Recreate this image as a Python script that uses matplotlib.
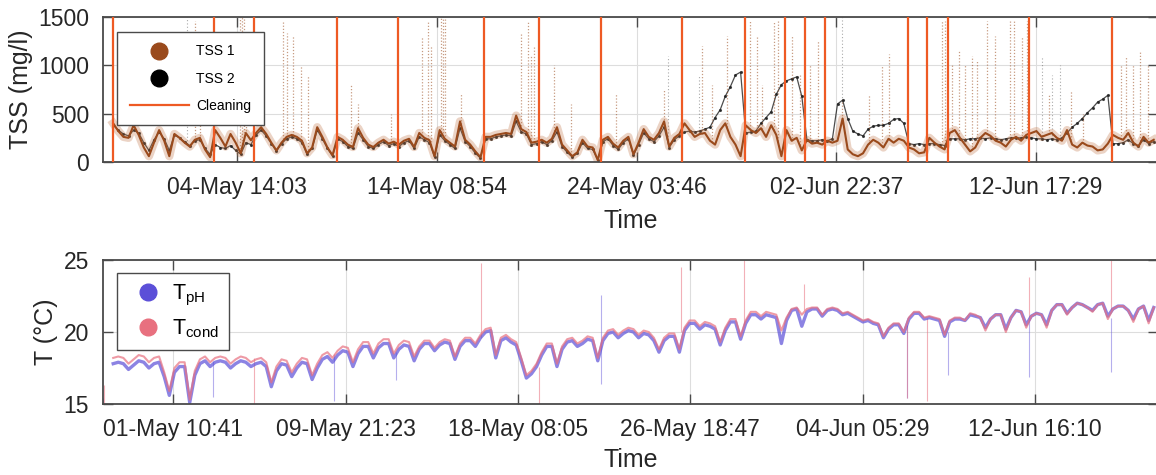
import numpy as np
import pandas as pd
from matplotlib import pyplot as plt
from matplotlib import dates as mdates
from matplotlib.lines import Line2D

plt.rcParams['font.family'] = ['Liberation Sans', 'DejaVu Sans']
plt.rcParams['mathtext.fontset'] = 'custom'
plt.rcParams['mathtext.rm'] = 'Liberation Sans'

# 6-hourly samples, first one at 28-Apr 12:00
start = '2021-04-28 12:00'

# TSS (mg/l), one row per day: 00h, 06h, 12h, 18h
tss1 = [400, 320,
        260, 250, 380, 280,   # 29-Apr
        150, 60, 200, 330,
        220, 60, 290, 250,    # 01-May
        200, 160, 230, 250,
        130, 50, 330, 250,
        160, 290, 200, 90,
        300, 225, 300, 360,   # 05-May
        290, 200, 120, 200,
        260, 280, 260, 220,
        90, 150, 360, 260,
        150, 70, 260, 230,
        180, 155, 350, 250,   # 10-May
        180, 155, 200, 230,
        190, 210, 180, 220,
        240, 155, 300, 250,
        225, 60, 330, 240,
        200, 160, 420, 230,   # 15-May
        180, 110, 50, 260,
        260, 280, 290, 300,
        290, 480, 340, 310,
        200, 210, 230, 200,
        240, 360, 180, 120,   # 20-May
        60, 100, 230, 160,
        150, 20, 230, 260,
        190, 150, 220, 260,
        80, 200, 340, 260,
        230, 300, 420, 160,   # 25-May
        250, 290, 400, 330,
        260, 290, 300, 220,
        180, 330, 400, 260,
        180, 60, 380, 330,
        300, 350, 260, 380,   # 30-May
        280, 60, 330, 220,
        250, 120, 230, 190,
        200, 180, 220, 200,
        220, 450, 130, 80,
        60, 90, 180, 230,     # 04-Jun
        200, 150, 240, 200,
        240, 220, 150, 130,
        90, 100, 250, 200,
        160, 130, 300, 330,
        250, 180, 110, 150,   # 09-Jun
        250, 300, 270, 220,
        200, 160, 230, 260,
        220, 280, 300, 320,
        260, 280, 300, 250,
        220, 330, 180, 150,   # 14-Jun
        200, 170, 160, 120,
        130, 190, 280, 250,
        230, 300, 200, 160,
        260, 200, 230]

tss2 = [380, 330,
        290, 270, 330, 300,
        200, 120, 230, 310,
        240, 120, 280, 250,   # 01-May
        210, 170, 220, 230,
        140, 80, 180, 150,
        140, 170, 120, 80,
        200, 180, 280, 330,   # 05-May
        270, 190, 110, 190,
        240, 260, 240, 200,
        80, 140, 330, 240,
        140, 60, 240, 210,
        160, 140, 300, 230,   # 10-May
        160, 140, 180, 210,
        170, 190, 160, 200,
        220, 140, 260, 230,
        200, 50, 280, 220,
        180, 140, 350, 210,   # 15-May
        160, 90, 40, 240,
        240, 260, 270, 280,
        270, 420, 310, 290,
        180, 190, 210, 180,
        220, 310, 160, 100,   # 20-May
        50, 90, 200, 140,
        130, 20, 210, 240,
        170, 130, 200, 240,
        70, 180, 300, 240,
        210, 270, 360, 150,   # 25-May
        230, 270, 310, 320,
        310, 320, 340, 360,
        460, 540, 680, 780,
        900, 930, 300, 310,
        320, 400, 460, 520,   # 30-May
        700, 800, 840, 860,
        880, 680, 230, 220,
        220, 230, 220, 240,
        600, 640, 450, 320,
        290, 270, 340, 370,   # 04-Jun
        380, 380, 400, 440,
        450, 400, 190, 180,
        190, 180, 190, 190,
        180, 170, 240, 240,
        240, 230, 240, 240,   # 09-Jun
        250, 240, 250, 240,
        230, 240, 250, 250,
        250, 260, 250, 240,
        240, 230, 240, 230,
        250, 300, 360, 400,   # 14-Jun
        450, 510, 560, 620,
        650, 690, 190, 190,
        200, 230, 190, 170,
        230, 190, 210]

# sensor cleaning events
cleaning = ['04-28 11:45', '05-03 10:50', '05-05 10:05', '05-09 10:50',
            '05-12 10:50', '05-16 16:05', '05-19 09:05', '05-22 10:05',
            '05-26 09:35', '05-29 10:50', '05-31 09:50', '06-01 09:35',
            '06-02 09:05', '06-06 11:00', '06-07 09:20', '06-08 10:05',
            '06-12 09:35', '06-16 10:20']

# isolated TSS 1 peaks: days after 01-May 00:00, peak value
tss1_peak_day = [1.52, 1.77, 3.73, 3.83, 3.93, 4.03, 5.80, 6.04, 6.29, 6.68,
                 7.03, 9.14, 9.48, 11.10, 12.63, 12.92, 13.07, 13.56, 13.66,
                 13.76, 14.54, 17.49, 17.84, 17.99, 18.13, 19.11, 19.95, 22.16,
                 24.52, 26.34, 26.83, 27.56, 28.69, 29.04, 29.28, 29.87, 30.07,
                 30.76, 31.15, 31.64, 32.03, 33.21, 34.54, 35.18, 35.52, 36.41,
                 38.13, 38.28, 38.62, 38.96, 39.26, 39.60, 39.85, 40.33, 40.73,
                 41.47, 41.67, 42.06, 42.31, 43.38, 44.42, 45.01, 46.88, 47.12,
                 47.47, 47.81, 48.21]
tss1_peak_val = [1460, 1300, 1500, 1500, 1500, 1200, 1460, 1330, 1300, 1000,
                 900, 800, 600, 500, 1300, 1460, 1200, 1500, 1500,
                 1500, 700, 1330, 1460, 1100, 1200, 1000, 600, 700,
                 750, 1200, 800, 1300, 1460, 1300, 800, 1460, 1460,
                 1300, 900, 1000, 1260, 640, 700, 1000, 1120, 500,
                 1460, 1460, 1000, 1150, 1000, 1100, 1050, 1460, 1300,
                 1460, 1460, 1300, 1460, 700, 740, 500, 1000, 1100,
                 1000, 1150, 1000]
tss2_peak_day = [1.13, 24.7, 26.2, 33.2, 43.04, 43.5, 43.9]
tss2_peak_val = [1500, 1100, 900, 1500, 1100, 900, 1000]

# temperature (deg C), same 6-hourly grid
t_cond = [18.2, 18.3,
          18.2, 17.8, 18.1, 18.4,
          18.3, 17.9, 18.2, 18.3,
          17.2, 15.9, 17.5, 17.9,   # 01-May
          17.9, 15.3, 17.3, 18.1,
          18.3, 17.9, 18.2, 18.3,
          18.2, 17.8, 18.1, 18.3,
          18.2, 17.9, 18.1, 18.2,   # 05-May
          17.9, 16.5, 17.6, 18.1,
          18.0, 17.2, 17.8, 18.2,
          18.1, 17.0, 17.8, 18.4,
          18.6, 18.2, 18.7, 19.0,
          18.9, 17.9, 18.8, 19.3,   # 10-May
          19.3, 18.5, 19.2, 19.5,
          19.5, 18.5, 19.1, 19.4,
          19.3, 18.3, 19.0, 19.4,
          19.4, 18.9, 19.3, 19.5,
          19.4, 18.3, 19.2, 19.6,   # 15-May
          19.6, 19.2, 19.8, 20.2,
          20.3, 18.4, 19.6, 19.8,
          19.5, 19.3, 18.2, 17.0,
          17.3, 17.8, 18.6, 19.2,
          19.2, 17.8, 19.0, 19.5,   # 20-May
          19.6, 19.2, 19.4, 19.7,
          19.6, 18.2, 19.6, 20.1,
          20.2, 19.8, 20.1, 20.3,
          20.2, 19.8, 20.1, 20.0,
          19.6, 18.8, 19.6, 19.9,   # 25-May
          19.9, 18.8, 20.3, 20.8,
          20.8, 20.4, 20.7, 20.6,
          20.4, 19.3, 20.3, 20.9,
          20.9, 19.7, 20.8, 21.4,
          21.4, 21.1, 21.4, 21.3,   # 30-May
          21.2, 20.1, 21.0, 21.6,
          21.7, 21.2, 21.6, 21.7,
          21.7, 21.2, 21.6, 21.7,
          21.6, 21.3, 21.4, 21.2,
          21.0, 20.8, 20.9, 20.7,   # 04-Jun
          20.6, 19.7, 20.3, 20.6,
          20.6, 20.0, 21.0, 21.4,
          21.4, 21.0, 21.1, 21.0,
          20.9, 19.8, 20.8, 21.0,
          21.0, 20.8, 21.3, 21.2,   # 09-Jun
          21.0, 20.1, 20.9, 21.2,
          21.2, 20.0, 21.0, 21.5,
          21.4, 20.3, 21.1, 21.3,
          21.2, 20.3, 21.5, 21.9,
          21.9, 21.2, 21.7, 22.0,   # 14-Jun
          21.9, 21.7, 21.4, 21.9,
          22.0, 20.9, 21.6, 21.8,
          21.8, 21.5, 20.7, 21.6,
          21.8, 20.6, 21.7]

t_ph = [17.8, 17.9,
        17.8, 17.4, 17.7, 18.0,
        17.9, 17.5, 17.8, 17.9,
        16.9, 15.6, 17.2, 17.6,     # 01-May
        17.6, 15.1, 17.0, 17.8,
        18.0, 17.6, 17.9, 18.0,
        17.9, 17.5, 17.8, 18.0,
        17.9, 17.6, 17.8, 17.9,     # 05-May
        17.6, 16.2, 17.3, 17.8,
        17.7, 16.9, 17.5, 17.9,
        17.8, 16.7, 17.5, 18.1,
        18.3, 17.9, 18.4, 18.7,
        18.6, 17.6, 18.5, 19.0,     # 10-May
        19.0, 18.2, 18.9, 19.2,
        19.2, 18.2, 18.8, 19.1,
        19.0, 18.0, 18.8, 19.2,
        19.2, 18.7, 19.1, 19.3,
        19.2, 18.1, 19.0, 19.4,     # 15-May
        19.4, 19.0, 19.6, 20.0,
        20.1, 18.2, 19.4, 19.6,
        19.3, 19.1, 18.0, 16.8,
        17.1, 17.6, 18.4, 19.0,
        19.0, 17.6, 18.8, 19.3,     # 20-May
        19.4, 19.0, 19.2, 19.5,
        19.4, 18.0, 19.4, 19.9,
        20.0, 19.6, 19.9, 20.1,
        20.0, 19.6, 19.9, 19.8,
        19.4, 18.6, 19.4, 19.7,     # 25-May
        19.7, 18.6, 20.1, 20.6,
        20.6, 20.2, 20.5, 20.4,
        20.2, 19.1, 20.1, 20.7,
        20.7, 19.5, 20.6, 21.2,
        21.2, 20.9, 21.2, 21.1,     # 30-May
        21.0, 19.2, 20.8, 21.5,
        21.6, 20.4, 21.4, 21.6,
        21.6, 21.1, 21.5, 21.6,
        21.5, 21.2, 21.3, 21.1,
        20.9, 20.7, 20.8, 20.6,     # 04-Jun
        20.5, 19.6, 20.2, 20.5,
        20.5, 19.9, 20.9, 21.3,
        21.3, 20.9, 21.0, 20.9,
        20.8, 19.7, 20.7, 20.9,
        20.9, 20.8, 21.2, 21.1,     # 09-Jun
        21.0, 20.3, 20.9, 21.2,
        21.2, 20.2, 21.0, 21.5,
        21.4, 20.5, 21.1, 21.3,
        21.2, 20.5, 21.5, 21.9,
        21.9, 21.3, 21.7, 22.0,     # 14-Jun
        21.9, 21.7, 21.5, 21.9,
        22.0, 21.1, 21.6, 21.8,
        21.8, 21.5, 20.9, 21.6,
        21.8, 20.8, 21.7]

# outliers at cleaning times: days after 01-May, low, high
tcond_out = [(-2.95, 15.0, 16.3), (4.39, 15.0, 18.2), (15.53, 19.6, 24.8),
             (18.38, 15.0, 17.6), (25.35, 20.0, 24.5), (28.40, 20.5, 25.0),
             (31.35, 21.5, 23.3), (36.41, 15.4, 20.5), (37.38, 15.2, 21.0),
             (42.40, 21.0, 23.8), (46.39, 21.5, 25.0)]
tph_out = [(-2.98, 15.0, 15.4), (2.40, 15.5, 18.0), (8.30, 15.2, 18.5),
           (11.35, 16.7, 18.6), (21.42, 16.4, 22.6), (36.41, 15.4, 20.5),
           (38.41, 17.0, 20.0), (42.40, 16.9, 21.0), (46.39, 17.2, 21.0)]

top_ticks = ['05-04 14:03', '05-14 08:54', '05-24 03:46', '06-02 22:37', '06-12 17:29']
bot_ticks = ['05-01 10:41', '05-09 21:23', '05-18 08:05', '05-26 18:47', '06-04 05:29', '06-12 16:10']

brown = '#9A4A1C'
orange = '#EE5A24'
blue = '#5B4FD8'
pink = '#E8707F'
axcol = '#4a4a4a'
txtcol = '#262626'

year = '2021-'
t0 = pd.Timestamp('2021-05-01')
tt = pd.date_range(start, periods=len(tss1), freq='6h')


def days(d):
    return t0 + pd.to_timedelta(np.asarray(d), unit='D')


def style(ax, ticks, ylim, yticks, ylabel, xpad):
    ax.set_xlim(pd.Timestamp('2021-04-28 00:00'), pd.Timestamp('2021-06-18 17:00'))
    ax.set_ylim(*ylim)
    ax.set_yticks(yticks)
    ax.set_xticks([pd.Timestamp(year + s) for s in ticks])
    ax.xaxis.set_major_formatter(mdates.DateFormatter('%d-%b %H:%M'))
    ax.grid(True, color='#dddddd', lw=0.8)
    ax.set_axisbelow(True)
    ax.tick_params(direction='in', length=7, width=1, top=True, right=True,
                   labelsize=16.5, pad=10, colors=axcol, labelcolor=txtcol)
    for s in ax.spines.values():
        s.set_color(axcol)
        s.set_linewidth(1.3)
    ax.set_xlabel('Time', fontsize=18, color=txtcol, labelpad=xpad)
    ax.set_ylabel(ylabel, fontsize=18, color=txtcol, labelpad=4)


fig = plt.figure(figsize=(11.56, 4.75), dpi=100)
ax1 = fig.add_axes([103 / 1156, 1 - 162 / 475, 1055 / 1156, 145 / 475])
ax2 = fig.add_axes([103 / 1156, 1 - 404 / 475, 1055 / 1156, 144 / 475])

# --- TSS panel
tnum = mdates.date2num(tt)
pk2 = days(tss2_peak_day)
ax1.vlines(pk2, np.interp(mdates.date2num(pk2), tnum, tss2), tss2_peak_val,
           colors='#555555', lw=0.8, alpha=0.5, linestyles=(0, (1, 2)))
ax1.plot(tt, tss2, color='#202020', lw=0.9, alpha=0.8, marker='.', ms=2.5)
pk1 = days(tss1_peak_day)
ax1.vlines(pk1, np.interp(mdates.date2num(pk1), tnum, tss1), tss1_peak_val,
           colors=brown, lw=0.9, alpha=0.55, linestyles=(0, (1, 1.5)))
ax1.plot(tt, tss1, color='#c07040', lw=6, alpha=0.3)
ax1.plot(tt, tss1, color=brown, lw=1.5)
for c in cleaning:
    ax1.axvline(pd.Timestamp(year + c), color=orange, lw=1.6, zorder=3)
style(ax1, top_ticks, (0, 1500), [0, 500, 1000, 1500], 'TSS (mg/l)', 7)

h1 = [Line2D([], [], ls='none', marker='o', ms=12, color=brown),
      Line2D([], [], ls='none', marker='o', ms=12, color='k'),
      Line2D([], [], color=orange, lw=1.6)]
leg1 = ax1.legend(h1, ['TSS 1', 'TSS 2', 'Cleaning'], loc='upper left',
                  bbox_to_anchor=(0.0133, 0.897), borderaxespad=0, fontsize=10,
                  handlelength=4.3, handletextpad=0.5, labelspacing=0.95,
                  borderpad=0.9, fancybox=False, framealpha=1)
leg1.get_frame().set_edgecolor(axcol)
leg1.get_frame().set_linewidth(1.0)
leg1.set_zorder(5)

# --- temperature panel
for d, lo, hi in tph_out:
    ax2.vlines(days(d), lo, hi, colors=blue, lw=0.8, alpha=0.45)
for d, lo, hi in tcond_out:
    ax2.vlines(days(d), lo, hi, colors=pink, lw=0.8, alpha=0.55)
ax2.plot(tt, t_ph, color=blue, lw=2.4, alpha=0.7)
ax2.plot(tt, t_cond, color=pink, lw=1.5, alpha=0.7)
style(ax2, bot_ticks, (15, 25), [15, 20, 25], 'T (°C)', 5)

h2 = [Line2D([], [], ls='none', marker='o', ms=12, color=blue),
      Line2D([], [], ls='none', marker='o', ms=12, color=pink)]
leg2 = ax2.legend(h2, [r'T$_{\rm pH}$', r'T$_{\rm cond}$'], loc='upper left',
                  bbox_to_anchor=(0.0133, 0.91), borderaxespad=0, fontsize=15.5,
                  handlelength=2.0, handletextpad=0.1, labelspacing=0.45,
                  borderpad=0.45, fancybox=False, framealpha=1)
leg2.get_frame().set_edgecolor(axcol)
leg2.get_frame().set_linewidth(1.0)

fig.savefig('out.png', dpi=100)
